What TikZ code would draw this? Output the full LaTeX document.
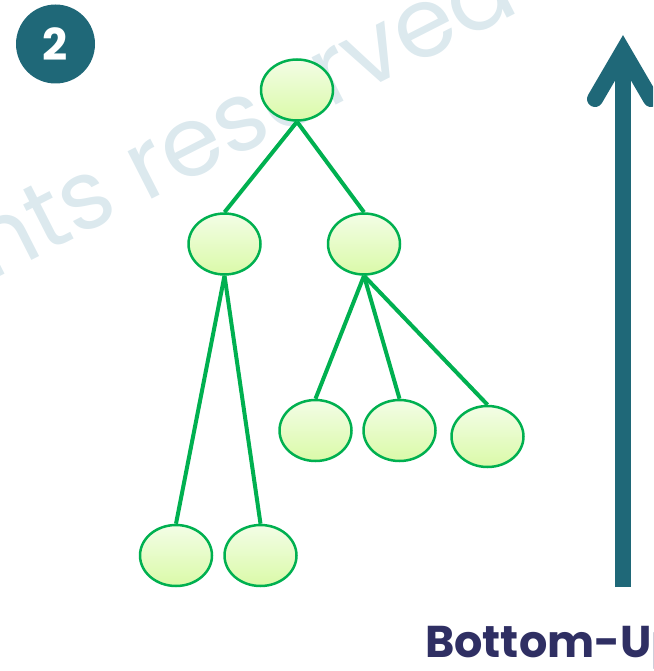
\documentclass[tikz,border=0pt]{standalone}
\usepackage{fontspec}
\usepackage{tikz}
\usetikzlibrary{shapes.geometric, positioning}
\newfontfamily\popfont{Poppins}
\definecolor{teal}{RGB}{31,104,120}
\definecolor{navy}{RGB}{47,47,99}
\definecolor{leafline}{RGB}{0,176,80}
\definecolor{leaftop}{RGB}{243,253,230}
\definecolor{leafbot}{RGB}{218,250,168}
\definecolor{wmark}{RGB}{220,233,238}
\tikzset{
  leaf/.style={ellipse, draw=leafline, line width=2.5pt, top color=leaftop, bottom color=leafbot,
    minimum width=72pt, minimum height=61pt, inner sep=0pt},
  twig/.style={draw=leafline, line width=4pt}
}

\begin{document}
\begin{tikzpicture}[x=1pt, y=-1pt]
		\useasboundingbox (0,0) rectangle (653,671);
		\clip (0,0) rectangle (653,671);
		% watermark behind the tree
		\node[rotate=27, anchor=base west, text=wmark, inner sep=0pt] (wm) at (-10,282) {\popfont\fontsize{97}{97}\selectfont nts reserved};
		
		\node[circle, fill=teal, minimum size=79pt, inner sep=0pt, text=white] (num) at (55.5,44) {\popfont\bfseries\fontsize{44}{44}\selectfont 2};
		
		\node[leaf] (R) at (297,90) {};
		\node[leaf] (A) at (224.5,244) {};
		\node[leaf] (B) at (364,244) {};
		\node[leaf] (A1) at (176,555.5) {};
		\node[leaf] (A2) at (260.5,555.5) {};
		\node[leaf] (B1) at (315.5,430.5) {};
		\node[leaf] (B2) at (399.5,430.5) {};
		\node[leaf] (B3) at (487.5,436.5) {};
		\draw[twig] (R.south) -- (A.north); \draw[twig] (R.south) -- (B.north);
		\draw[twig] (A.south) -- (A1.north); \draw[twig] (A.south) -- (A2.north);
		\draw[twig] (B.south) -- (B1.north); \draw[twig] (B.south) -- (B2.north); \draw[twig] (B.south) -- (B3.north);
		
		% big arrow on the right
		\coordinate (foot) at (623,587);
		\coordinate (tip) at (623,51);
		\coordinate (wl) at (595,99);
		\coordinate (wr) at (651,99);
		\draw[teal, line width=16pt] (foot) -- (tip);
		\draw[teal, line width=16pt, line cap=round, line join=miter] (wl) -- (tip) -- (wr);
		
		\node[anchor=base west, text=navy, inner sep=0pt] (lbl) at (425,657) {\popfont\bfseries\fontsize{44.5}{44.5}\selectfont Bottom-Up};
		\end{tikzpicture}
\end{document}
